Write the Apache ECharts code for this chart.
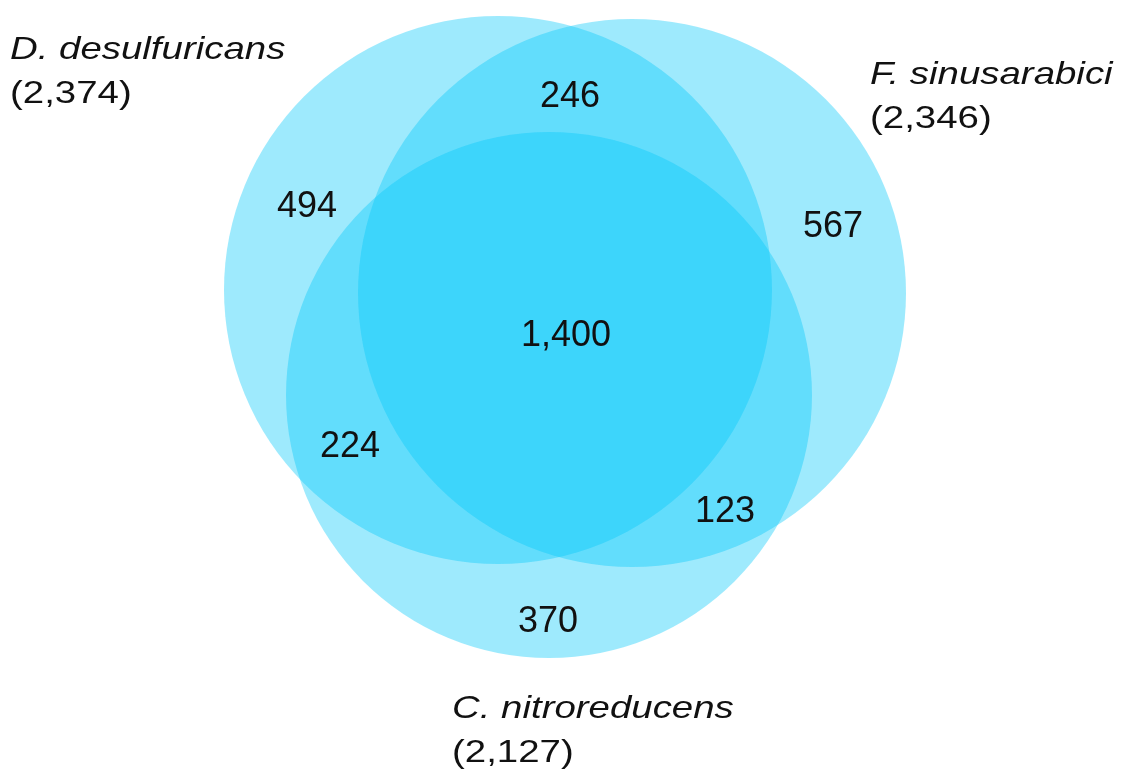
<!DOCTYPE html>
<html>
<head>
<meta charset="utf-8">
<title>Venn</title>
<script src="https://cdn.jsdelivr.net/npm/echarts@6/dist/echarts.min.js"></script>
<style>
    html, body {
        margin: 0;
        padding: 0;
        background: #ffffff;
    }
    #chart {
        width: 1125px;
        height: 774px;
    }
</style>
</head>
<body>
<div id="chart"></div>
<script>
// data
const setNames = ["D. desulfuricans", "F. sinusarabici", "C. nitroreducens"];
const setTotals = [2374, 2346, 2127];
// regions: D only, D&F, F only, all three, D&C, F&C, C only
const regionNames = ["D", "DF", "F", "DFC", "DC", "FC", "C"];
const regionCounts = [494, 246, 567, 1400, 224, 123, 370];

// layout (axis units, the axes span the whole canvas)
const circleCenters = [[498, 290], [632, 293], [549, 395]];
const circleRadii = [274, 274, 263];
const regionAnchors = [[307, 207], [570, 97], [833, 227], [566, 336], [350, 447], [725, 512], [548, 622]];
const setLabelAnchors = [[10, 50], [870, 75], [452, 709]];
const setLabelGap = 44;

const fmt = (v) => v.toLocaleString("en-US");

const chart = echarts.init(document.getElementById("chart"));

const circleData = circleCenters.map((c, i) => [c[0], c[1], circleRadii[i]]);
const regionData = regionAnchors.map((p, i) => [p[0], p[1], regionCounts[i]]);
const setData = setLabelAnchors.map((p, i) => [p[0], p[1], i]);

const option = {
    animation: false,
    grid: { left: 0, right: 0, top: 0, bottom: 0 },
    xAxis: { type: "value", min: 0, max: 1125, show: false },
    yAxis: { type: "value", min: 0, max: 774, inverse: true, show: false },
    series: [
        {
            type: "custom",
            name: "sets",
            data: circleData,
            renderItem: (params, api) => {
                const c = api.coord([api.value(0), api.value(1)]);
                const r = api.size([api.value(2), 0])[0];
                return {
                    type: "circle",
                    shape: { cx: c[0], cy: c[1], r: r },
                    style: { fill: "rgba(0, 200, 250, 0.38)" },
                };
            },
        },
        {
            type: "custom",
            name: "regions",
            data: regionData,
            renderItem: (params, api) => {
                const p = api.coord([api.value(0), api.value(1)]);
                return {
                    type: "text",
                    x: p[0],
                    y: p[1],
                    style: {
                        text: fmt(api.value(2)),
                        font: '36px "Liberation Sans", Arial, sans-serif',
                        fill: "#111111",
                        align: "center",
                        verticalAlign: "middle",
                    },
                };
            },
        },
        {
            type: "custom",
            name: "setLabels",
            data: setData,
            renderItem: (params, api) => {
                const p = api.coord([api.value(0), api.value(1)]);
                const i = api.value(2);
                return {
                    type: "group",
                    x: p[0],
                    y: p[1],
                    scaleX: 1.2,
                    children: [
                        {
                            type: "text",
                            style: {
                                text: setNames[i],
                                font: 'italic 32px "Liberation Sans", Arial, sans-serif',
                                fill: "#111111",
                                align: "left",
                                verticalAlign: "middle",
                            },
                        },
                        {
                            type: "text",
                            y: setLabelGap,
                            style: {
                                text: "(" + fmt(setTotals[i]) + ")",
                                font: '32px "Liberation Sans", Arial, sans-serif',
                                fill: "#111111",
                                align: "left",
                                verticalAlign: "middle",
                            },
                        },
                    ],
                };
            },
        },
    ],
};

chart.setOption(option);
window.addEventListener("resize", () => chart.resize());
</script>
</body>
</html>
